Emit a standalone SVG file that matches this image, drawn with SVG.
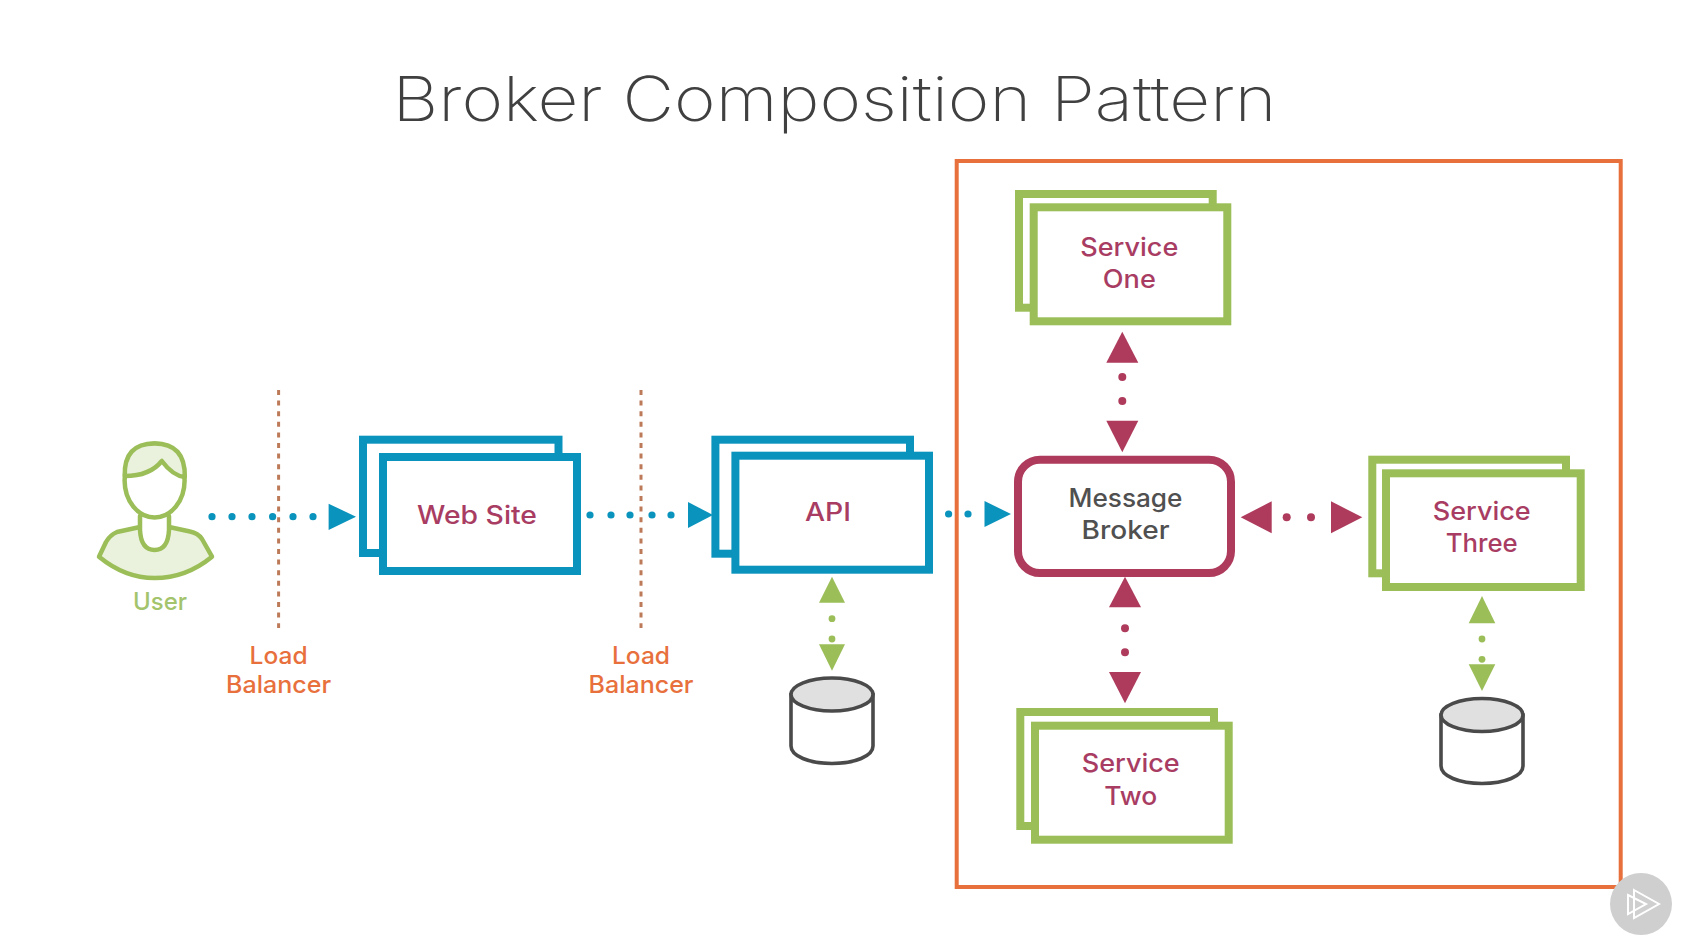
<svg xmlns="http://www.w3.org/2000/svg" width="1681" height="946" viewBox="0 0 1681 946">
<style>
text{font-family:Inter,"Liberation Sans",sans-serif;text-anchor:middle}
.title{font-size:62px;font-weight:200;fill:#404040}
.lbl{font-size:25px;font-weight:500;fill:#a83c62}
.dark{fill:#505050}
.org{fill:#e8703c;font-size:24px}
.usr{fill:#a3c46c;font-size:24px}
.b{fill:#fff;stroke:#0a93bc;stroke-width:8}
.g{fill:#fff;stroke:#9bbe58;stroke-width:8}
.cyl{fill:#fff;stroke:#4a4a4a;stroke-width:3.6}
.cyt{fill:#e0e0e0;stroke:#4a4a4a;stroke-width:3.6}
.lb{fill:none;stroke:#bd7a58;stroke-width:3;stroke-dasharray:5 5.6}
.fb{fill:#0a93bc}.fg{fill:#9bbe58}.fc{fill:#ae3a5c}
.u{fill:#eaf2dd;stroke:#9bbe58;stroke-width:4.5;stroke-linejoin:round;stroke-linecap:round}
.w{fill:#fff;stroke:#9bbe58;stroke-width:4.5;stroke-linejoin:round;stroke-linecap:round}
</style>
<rect width="1681" height="946" fill="#fff"/>
<text id="title" class="title" x="834.5" y="121" textLength="884" lengthAdjust="spacingAndGlyphs">Broker Composition Pattern</text>
<rect id="boundary" x="956.7" y="161" width="664" height="726" fill="none" stroke="#e8703c" stroke-width="4"/>

<g id="lb1"><line class="lb" x1="278.6" y1="390" x2="278.6" y2="628"/>
<text class="lbl org" x="278.6" y="664" textLength="58" lengthAdjust="spacingAndGlyphs">Load</text><text class="lbl org" x="278.6" y="693" textLength="105" lengthAdjust="spacingAndGlyphs">Balancer</text></g>
<g id="lb2"><line class="lb" x1="641" y1="390" x2="641" y2="628"/>
<text class="lbl org" x="641" y="664" textLength="58" lengthAdjust="spacingAndGlyphs">Load</text><text class="lbl org" x="641" y="693" textLength="105" lengthAdjust="spacingAndGlyphs">Balancer</text></g>

<g id="connectors">
<g class="fb">
<circle cx="212" cy="516.7" r="3.6"/><circle cx="232" cy="516.7" r="3.6"/><circle cx="252" cy="516.7" r="3.6"/><circle cx="272.6" cy="516.7" r="3.6"/><circle cx="293" cy="516.7" r="3.6"/><circle cx="313" cy="516.7" r="3.6"/>
<polygon points="328.6,503.7 356,516.7 328.6,530"/>
<circle cx="590" cy="515" r="3.6"/><circle cx="611" cy="515" r="3.6"/><circle cx="630" cy="515" r="3.6"/><circle cx="652" cy="515" r="3.6"/><circle cx="671" cy="515" r="3.6"/>
<polygon points="688,502 713,515 688,528"/>
<circle cx="948.6" cy="514" r="3.6"/><circle cx="968" cy="514" r="3.6"/>
<polygon points="984.5,501 1011,514 984.5,527"/>
</g>
<g class="fg">
<polygon points="832,576.7 845,602.7 819,602.7"/><circle cx="832" cy="618.7" r="3.4"/><circle cx="832" cy="639" r="3.4"/><polygon points="819,644.3 845,644.3 832,670.7"/>
<polygon points="1482,596 1495.3,623.3 1468.7,623.3"/><circle cx="1482" cy="639" r="3.4"/><circle cx="1482" cy="659.3" r="3.4"/><polygon points="1468.7,664.3 1495.3,664.3 1482,691"/>
</g>
<g class="fc">
<polygon points="1122.3,331.7 1138.3,362.7 1106.3,362.7"/><circle cx="1122.3" cy="377" r="4"/><circle cx="1122.3" cy="401" r="4"/><polygon points="1106.3,420.7 1138.3,420.7 1122.3,452.3"/>
<polygon points="1125,576.7 1141,607.3 1109,607.3"/><circle cx="1125" cy="628.3" r="4"/><circle cx="1125" cy="652.3" r="4"/><polygon points="1109,672 1141,672 1125,703.3"/>
<polygon points="1240.7,517.3 1271.7,501.3 1271.7,533.3"/><circle cx="1286.7" cy="517.3" r="4"/><circle cx="1311" cy="517.3" r="4"/><polygon points="1331,501.3 1362.3,517.3 1331,533.3"/>
</g>
</g>

<g id="user">
<path class="u" d="M140 527 L117 532 Q110 535 106 542 L99 556.7 Q125 578 154.6 578 Q186 578 212 556.7 L202 539 Q198 533 190 531.5 L169 527 Z"/>
<path class="w" d="M140 516 V530 Q141 550 154.6 550 Q168 550 169 530 V516"/>
<ellipse class="w" cx="154.6" cy="480.5" rx="30" ry="37"/>
<path class="u" d="M124.8 476 Q123.6 443.5 154.6 443.5 Q185.5 443.5 184.8 477 Q173 476 161.8 461 Q150 476 124.8 476 Z"/>
<text class="lbl usr" x="160" y="610" textLength="54" lengthAdjust="spacingAndGlyphs">User</text>
</g>

<g id="web-site"><rect class="b" x="363" y="439.7" width="195.5" height="113.3"/><rect class="b" x="383" y="457" width="194" height="114"/>
<text class="lbl" x="477" y="524" textLength="120" lengthAdjust="spacingAndGlyphs">Web Site</text></g>
<g id="api"><rect class="b" x="715.4" y="439.7" width="194.6" height="114"/><rect class="b" x="735.4" y="455.7" width="193.6" height="114"/>
<text class="lbl" x="828" y="521.3" textLength="46" lengthAdjust="spacingAndGlyphs">API</text></g>
<g id="message-broker"><rect x="1018" y="459.7" width="213" height="113.3" rx="22" fill="#fff" stroke="#ae3a5c" stroke-width="8"/>
<text class="lbl dark" x="1125.5" y="506.5" textLength="114" lengthAdjust="spacingAndGlyphs">Message</text><text class="lbl dark" x="1125.5" y="538.5" textLength="88" lengthAdjust="spacingAndGlyphs">Broker</text></g>
<g id="service-one"><rect class="g" x="1019" y="194" width="193.7" height="113.7"/><rect class="g" x="1033.7" y="207.3" width="193.6" height="114"/>
<text class="lbl" x="1129.3" y="255.7" textLength="98" lengthAdjust="spacingAndGlyphs">Service</text><text class="lbl" x="1129.3" y="287.5" textLength="53" lengthAdjust="spacingAndGlyphs">One</text></g>
<g id="service-two"><rect class="g" x="1020.3" y="712" width="193.7" height="114"/><rect class="g" x="1035" y="725.7" width="193.7" height="114"/>
<text class="lbl" x="1130.7" y="772.3" textLength="98" lengthAdjust="spacingAndGlyphs">Service</text><text class="lbl" x="1130.7" y="804.8" textLength="53" lengthAdjust="spacingAndGlyphs">Two</text></g>
<g id="service-three"><rect class="g" x="1372.3" y="459.7" width="193.7" height="113.6"/><rect class="g" x="1386" y="473.3" width="194.7" height="113.7"/>
<text class="lbl" x="1481.7" y="520" textLength="98" lengthAdjust="spacingAndGlyphs">Service</text><text class="lbl" x="1481.7" y="552" textLength="72" lengthAdjust="spacingAndGlyphs">Three</text></g>

<g id="db-api"><path class="cyl" d="M791 694.5 V746 C791 756 809 763.5 832 763.5 C855 763.5 873 756 873 746 V694.5 Z"/><ellipse class="cyt" cx="832" cy="694.5" rx="41" ry="16.5"/></g>
<g id="db-three"><path class="cyl" d="M1441 715 V766 C1441 776 1459 783.5 1482 783.5 C1505 783.5 1523 776 1523 766 V715 Z"/><ellipse class="cyt" cx="1482" cy="715" rx="41" ry="16.5"/></g>

<g id="play"><circle cx="1641" cy="904" r="31" fill="#cfcfcf"/>
<path d="M1634 890 L1659 904 L1634 918 Z M1628 895 L1646 904 L1628 914 Z" fill="none" stroke="#fff" stroke-width="2"/></g>
</svg>
